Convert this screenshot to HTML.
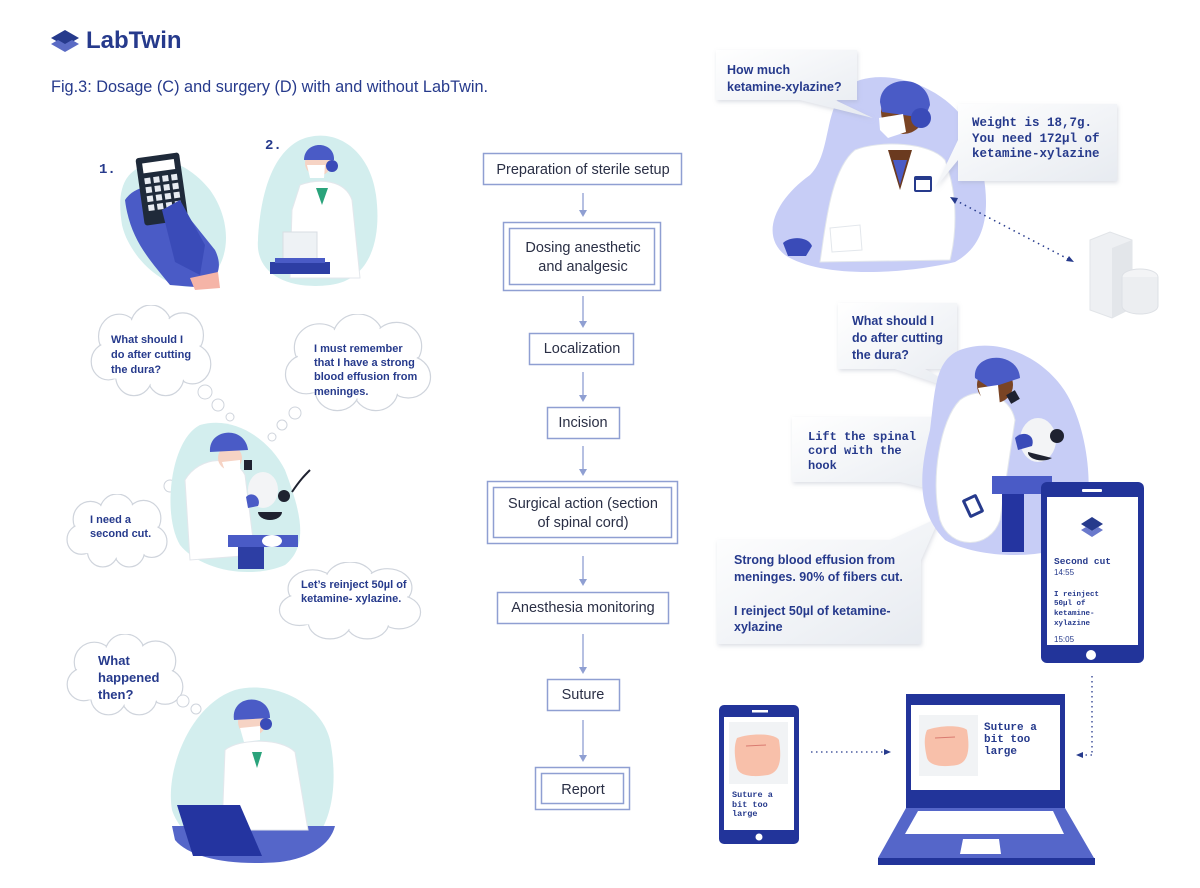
<!DOCTYPE html>
<html><head><meta charset="utf-8"><style>
html,body{margin:0;padding:0;background:#fff;}
svg{display:block;}
.t{font-family:"Liberation Sans",sans-serif;fill:#263a8c;}
.m{font-family:"Liberation Mono",monospace;fill:#263a8c;font-weight:bold;}
.fb{fill:#fff;stroke:#8f9fd2;stroke-width:1.5;}
.ft{font-family:"Liberation Sans",sans-serif;fill:#2a2f45;font-size:14.5px;text-anchor:middle;}
.ar{stroke:#8f9fd2;stroke-width:1.3;fill:none;}
.ah{fill:#8f9fd2;}
</style></head><body>
<svg width="1200" height="888" viewBox="0 0 1200 888" xmlns="http://www.w3.org/2000/svg">
<defs>
<symbol id="cloud" viewBox="0 0 100 70" preserveAspectRatio="none">
<g fill="#fff" stroke="#cfd4dc" stroke-width="1.2">
<circle cx="24" cy="24" r="17" vector-effect="non-scaling-stroke"/><circle cx="50" cy="17" r="17" vector-effect="non-scaling-stroke"/><circle cx="76" cy="23" r="17" vector-effect="non-scaling-stroke"/><circle cx="84" cy="45" r="15" vector-effect="non-scaling-stroke"/><circle cx="62" cy="54" r="15" vector-effect="non-scaling-stroke"/><circle cx="36" cy="54" r="15" vector-effect="non-scaling-stroke"/><circle cx="15" cy="43" r="14" vector-effect="non-scaling-stroke"/>
</g>
<g fill="#fff"><circle cx="24" cy="24" r="16"/><circle cx="50" cy="17" r="16"/><circle cx="76" cy="23" r="16"/><circle cx="84" cy="45" r="14"/><circle cx="62" cy="54" r="14"/><circle cx="36" cy="54" r="14"/><circle cx="15" cy="43" r="13"/><rect x="18" y="18" width="66" height="38"/></g>
</symbol>
<filter id="sh" x="-10%" y="-10%" width="130%" height="130%"><feDropShadow dx="1" dy="2" stdDeviation="2" flood-color="#9aa3b5" flood-opacity="0.35"/></filter>
<linearGradient id="bub" x1="0" y1="0" x2="1" y2="1"><stop offset="0" stop-color="#ffffff"/><stop offset="1" stop-color="#e6eaf0"/></linearGradient>
</defs>

<!-- Logo -->
<path d="M51 38 L65 30 L79 38 L65 46 Z" fill="#263a8c"/>
<path d="M51 44 L58 40 L65 44 L72 40 L79 44 L65 52 Z" fill="#5a6bc4"/>
<text x="86" y="48" class="t" font-size="24" font-weight="bold">LabTwin</text>
<text x="51" y="92" class="t" font-size="16.3">Fig.3: Dosage (C) and surgery (D) with and without LabTwin.</text>

<!-- 1. calculator -->
<text x="99" y="173" class="m" font-size="14">1.</text>
<path d="M135 170 C160 150 190 165 210 190 C235 225 230 270 200 285 C170 295 130 260 122 225 C118 200 120 180 135 170 Z" fill="#d3eeee"/>
<path d="M125 200 C135 185 160 180 175 200 L215 250 C225 270 215 285 195 287 L170 285 C150 260 130 240 125 200 Z" fill="#4a5bc6"/>
<rect x="140" y="155" width="44" height="68" rx="3" fill="#1f2a3a" transform="rotate(-8 162 190)"/>
<rect x="146" y="161" width="32" height="10" fill="#fff" transform="rotate(-8 162 190)"/>
<g fill="#e8ecf2" transform="rotate(-8 162 190)">
<rect x="146" y="176" width="6" height="6"/><rect x="155" y="176" width="6" height="6"/><rect x="164" y="176" width="6" height="6"/><rect x="173" y="176" width="6" height="6"/>
<rect x="146" y="185" width="6" height="6"/><rect x="155" y="185" width="6" height="6"/><rect x="164" y="185" width="6" height="6"/><rect x="173" y="185" width="6" height="6"/>
<rect x="146" y="194" width="6" height="6"/><rect x="155" y="194" width="6" height="6"/><rect x="164" y="194" width="6" height="6"/><rect x="173" y="194" width="6" height="6"/>
<rect x="146" y="203" width="6" height="6"/><rect x="155" y="203" width="6" height="6"/><rect x="164" y="203" width="6" height="6"/><rect x="173" y="203" width="6" height="6"/>
</g>
<path d="M162 210 L180 200 L205 245 L200 275 L175 262 Z" fill="#3a4bb8"/>
<path d="M190 278 L218 272 L220 288 L195 290 Z" fill="#f5b4a7"/>

<!-- 2. scale person -->
<text x="265" y="149" class="m" font-size="14">2.</text>
<path d="M300 140 C335 125 370 150 376 195 C382 240 370 280 330 285 C290 290 255 275 258 240 C260 200 270 155 300 140 Z" fill="#d3eeee"/>
<path d="M300 185 C320 178 345 180 352 200 L360 278 L290 278 L292 210 Z" fill="#fff" stroke="#e3e7ec"/>
<path d="M316 188 L322 205 L328 188 Z" fill="#2aa37b"/>
<circle cx="318" cy="163" r="13" fill="#f6d3c4"/>
<path d="M304 160 C304 140 335 140 334 160 Z" fill="#4a5bc6"/>
<circle cx="332" cy="166" r="6" fill="#3a4bb8"/>
<path d="M307 165 L325 165 L324 178 L310 178 Z" fill="#fff"/>
<rect x="283" y="232" width="34" height="30" fill="#eef2f5" stroke="#d8dde3"/>
<rect x="270" y="262" width="60" height="12" fill="#2d3ea4"/>
<rect x="275" y="258" width="50" height="5" fill="#4a5bc6"/>

<!-- Clouds left -->
<use href="#cloud" x="90" y="305" width="122" height="92"/>
<text class="t" font-size="11" font-weight="bold"><tspan x="111" y="343">What should I</tspan><tspan x="111" y="358">do after cutting</tspan><tspan x="111" y="373">the dura?</tspan></text>
<use href="#cloud" x="284" y="314" width="148" height="98"/>
<text class="t" font-size="11" font-weight="bold"><tspan x="314" y="352">I must remember</tspan><tspan x="314" y="366">that I have a strong</tspan><tspan x="314" y="380">blood effusion from</tspan><tspan x="314" y="395">meninges.</tspan></text>
<use href="#cloud" x="66" y="494" width="102" height="74"/>
<text class="t" font-size="11" font-weight="bold"><tspan x="90" y="523">I need a</tspan><tspan x="90" y="537">second cut.</tspan></text>
<use href="#cloud" x="278" y="562" width="144" height="78"/>
<text class="t" font-size="11" font-weight="bold"><tspan x="301" y="588">Let’s reinject 50µl of</tspan><tspan x="301" y="602">ketamine- xylazine.</tspan></text>
<use href="#cloud" x="66" y="634" width="118" height="82"/>
<text class="t" font-size="13" font-weight="bold"><tspan x="98" y="665">What</tspan><tspan x="98" y="682">happened</tspan><tspan x="98" y="699">then?</tspan></text>
<g fill="#fff" stroke="#cfd4dc">
<circle cx="205" cy="392" r="7"/><circle cx="218" cy="405" r="6"/><circle cx="230" cy="417" r="4"/>
<circle cx="295" cy="413" r="6"/><circle cx="282" cy="425" r="5"/><circle cx="272" cy="437" r="4"/>
<circle cx="170" cy="486" r="6"/><circle cx="182" cy="476" r="5"/><circle cx="192" cy="468" r="4"/>
<circle cx="183" cy="701" r="6"/><circle cx="196" cy="709" r="5"/><circle cx="206" cy="717" r="4"/>
</g>

<!-- microscope person left -->
<path d="M200 425 C235 415 270 440 285 470 C300 510 310 545 285 565 C250 580 200 570 180 545 C162 515 170 440 200 425 Z" fill="#d3eeee"/>
<path d="M185 480 C200 455 235 455 245 475 L255 555 L190 560 Z" fill="#fff" stroke="#e3e7ec"/>
<circle cx="230" cy="458" r="12" fill="#f6d3c4"/>
<path d="M210 452 C208 428 245 425 248 450 Z" fill="#4a5bc6"/>
<path d="M222 462 L240 460 L240 472 L226 474 Z" fill="#fff"/>
<rect x="244" y="460" width="8" height="10" fill="#1f2230"/>
<ellipse cx="263" cy="490" rx="15" ry="18" fill="#f3f4f6"/>
<circle cx="284" cy="496" r="6" fill="#1f2230"/>
<path d="M258 512 A12 8 0 0 0 282 512 Z" fill="#1f2230"/>
<path d="M246 497 C252 490 262 498 258 506 L248 508 Z" fill="#4a5bc6"/>
<path d="M292 492 C300 480 305 475 310 470" stroke="#1f2230" stroke-width="2" fill="none"/>
<rect x="228" y="535" width="70" height="12" fill="#4a5bc6"/>
<rect x="238" y="547" width="26" height="22" fill="#2d3ea4"/>
<ellipse cx="272" cy="541" rx="10" ry="6" fill="#fff"/>

<!-- laptop person left -->
<path d="M235 690 C270 680 320 700 330 740 C340 790 330 845 290 855 C240 862 185 850 172 810 C165 770 190 705 235 690 Z" fill="#d3eeee"/>
<path d="M172 826 L335 826 C330 845 310 858 280 862 C230 866 190 858 175 840 Z" fill="#5566c9"/>
<path d="M225 750 C240 738 282 738 295 752 L308 830 L222 830 Z" fill="#fff" stroke="#e3e7ec"/>
<path d="M252 752 L257 768 L262 752 Z" fill="#2aa37b"/>
<circle cx="252" cy="722" r="14" fill="#f6d3c4"/>
<path d="M234 720 C230 694 270 692 270 718 Z" fill="#4a5bc6"/>
<circle cx="266" cy="724" r="6" fill="#3a4bb8"/>
<path d="M240 728 L260 726 L260 740 L244 742 Z" fill="#fff"/>
<path d="M177 805 L240 805 L262 856 L193 856 Z" fill="#2434a0"/>

<!-- Flowchart -->
<rect class="fb" x="483.5" y="153.5" width="198" height="31"/>
<text class="ft" x="583" y="174">Preparation of sterile setup</text>
<rect class="fb" x="503.5" y="222.5" width="157" height="68"/>
<rect class="fb" x="509.5" y="228.5" width="145" height="56"/>
<text class="ft" x="583" y="252">Dosing anesthetic</text>
<text class="ft" x="583" y="271">and analgesic</text>
<rect class="fb" x="529.5" y="333.5" width="104" height="31"/>
<text class="ft" x="582" y="353">Localization</text>
<rect class="fb" x="547.5" y="407.5" width="72" height="31"/>
<text class="ft" x="583" y="427">Incision</text>
<rect class="fb" x="487.5" y="481.5" width="190" height="62"/>
<rect class="fb" x="493.5" y="487.5" width="178" height="50"/>
<text class="ft" x="583" y="508">Surgical action (section</text>
<text class="ft" x="583" y="527">of spinal cord)</text>
<rect class="fb" x="497.5" y="592.5" width="171" height="31"/>
<text class="ft" x="583" y="612">Anesthesia monitoring</text>
<rect class="fb" x="547.5" y="679.5" width="72" height="31"/>
<text class="ft" x="583" y="699">Suture</text>
<rect class="fb" x="535.5" y="767.5" width="94" height="42"/>
<rect class="fb" x="541.5" y="773.5" width="82" height="30"/>
<text class="ft" x="583" y="794">Report</text>
<g class="ar"><line x1="583" y1="193" x2="583" y2="212"/><line x1="583" y1="296" x2="583" y2="322"/><line x1="583" y1="372" x2="583" y2="396"/><line x1="583" y1="446" x2="583" y2="470"/><line x1="583" y1="556" x2="583" y2="580"/><line x1="583" y1="634" x2="583" y2="668"/><line x1="583" y1="720" x2="583" y2="756"/></g>
<g class="ah"><path d="M579 210 L583 217 L587 210Z"/><path d="M579 321 L583 328 L587 321Z"/><path d="M579 395 L583 402 L587 395Z"/><path d="M579 469 L583 476 L587 469Z"/><path d="M579 579 L583 586 L587 579Z"/><path d="M579 667 L583 674 L587 667Z"/><path d="M579 755 L583 762 L587 755Z"/></g>

<!-- Right top blob + person -->
<path d="M860 80 C900 68 960 95 975 140 C990 190 995 240 955 262 C900 275 820 278 785 255 C760 235 775 200 810 175 C835 150 820 95 860 80 Z" fill="#c7cdf6"/>
<path d="M855 150 C880 140 930 142 945 160 C960 200 955 240 950 260 L820 262 C825 230 830 170 855 150 Z" fill="#fff" stroke="#e3e7ec"/>
<path d="M888 150 L900 190 L912 150 Z" fill="#6b3a1f"/>
<path d="M893 160 L900 185 L907 160 Z" fill="#4a5bc6"/>
<circle cx="903" cy="112" r="22" fill="#7a4424"/>
<path d="M880 102 C880 75 928 72 930 105 L925 118 L882 112 Z" fill="#4a5bc6"/>
<circle cx="921" cy="118" r="10" fill="#3a4bb8"/>
<path d="M879 118 L903 114 L906 132 L888 138 L880 130 Z" fill="#fff"/>
<rect x="914" y="176" width="18" height="16" rx="2" fill="#263a8c"/><rect x="916" y="180" width="14" height="10" fill="#fff"/>
<path d="M830 228 L860 225 L862 250 L832 252 Z" fill="#fff" stroke="#e3e7ec"/>
<path d="M783 243 C790 236 808 236 812 246 L806 256 L788 256 Z" fill="#3a4bb8"/>
<!-- server -->
<path d="M1090 240 L1110 232 L1132 240 L1132 308 L1112 318 L1090 310 Z" fill="#eef0f3" stroke="#e1e4e8"/>
<path d="M1112 248 L1132 240 L1132 308 L1112 318 Z" fill="#e3e6ea"/>
<ellipse cx="1140" cy="277" rx="18" ry="8" fill="#f3f4f6" stroke="#dde0e5"/>
<path d="M1122 277 L1122 306 A18 8 0 0 0 1158 306 L1158 277" fill="#eceef1" stroke="#dde0e5"/>
<line x1="955" y1="200" x2="1070" y2="260" stroke="#263a8c" stroke-width="1.5" stroke-dasharray="1.5 4"/>
<path d="M950 197 L958 198 L955 204 Z" fill="#263a8c"/><path d="M1074 262 L1066 261 L1069 256 Z" fill="#263a8c"/>

<!-- Speech boxes -->
<g filter="url(#sh)">
<path d="M716 50 L857 50 L857 100 L835 100 L873 118 L800 100 L716 100 Z" fill="url(#bub)"/>
<path d="M958 104 L1117 104 L1117 181 L958 181 L958 160 L935 188 L958 140 Z" fill="url(#bub)"/>
<path d="M838 303 L957 303 L957 369 L925 369 L970 395 L895 369 L838 369 Z" fill="url(#bub)"/>
<path d="M792 417 L948 417 L948 482 L930 482 L968 498 L900 482 L792 482 Z" fill="url(#bub)"/>
<path d="M717 540 L890 540 L940 517 L921 560 L921 644 L717 644 Z" fill="url(#bub)"/>
</g>
<text class="t" font-size="12.5" font-weight="bold"><tspan x="727" y="74">How much</tspan><tspan x="727" y="91">ketamine-xylazine?</tspan></text>
<text class="m" font-size="12.5"><tspan x="972" y="126">Weight is 18,7g.</tspan><tspan x="972" y="142">You need 172µl of</tspan><tspan x="972" y="157">ketamine-xylazine</tspan></text>
<text class="t" font-size="12.5" font-weight="bold"><tspan x="852" y="325">What should I</tspan><tspan x="852" y="342">do after cutting</tspan><tspan x="852" y="359">the dura?</tspan></text>
<text class="m" font-size="12" font-weight="normal"><tspan x="808" y="440">Lift the spinal</tspan><tspan x="808" y="454">cord with the</tspan><tspan x="808" y="469">hook</tspan></text>
<text class="t" font-size="12.5" font-weight="bold"><tspan x="734" y="564">Strong blood effusion from</tspan><tspan x="734" y="581">meninges. 90% of fibers cut.</tspan><tspan x="734" y="615">I reinject 50µl of ketamine-</tspan><tspan x="734" y="631">xylazine</tspan></text>

<!-- right middle blob + person -->
<path d="M960 350 C1000 335 1050 360 1070 400 C1090 440 1095 500 1080 540 C1050 560 980 560 945 540 C915 510 920 470 930 430 C935 390 935 360 960 350 Z" fill="#c7cdf6"/>
<path d="M960 400 C980 385 1010 395 1015 420 L1000 520 C990 550 950 550 940 520 C930 480 940 420 960 400 Z" fill="#fff" stroke="#e3e7ec"/>
<circle cx="995" cy="385" r="18" fill="#7a4424"/>
<path d="M975 378 C972 352 1018 350 1020 378 L990 388 Z" fill="#4a5bc6"/>
<path d="M978 388 L998 385 L1000 405 L985 408 Z" fill="#fff"/>
<rect x="1008" y="392" width="10" height="10" fill="#1f2230" transform="rotate(-30 1013 397)"/>
<ellipse cx="1038" cy="440" rx="18" ry="22" fill="#f3f4f6"/>
<circle cx="1057" cy="436" r="7" fill="#1f2230"/>
<path d="M1028 452 A14 8 0 0 0 1052 458 Z" fill="#1f2230"/>
<path d="M1015 438 C1022 430 1036 434 1032 446 L1018 450 Z" fill="#3a4bb8"/>
<rect x="992" y="476" width="60" height="18" fill="#4a5bc6"/>
<rect x="1002" y="494" width="22" height="58" fill="#2434a0"/>
<rect x="965" y="496" width="16" height="20" rx="2" fill="#263a8c" transform="rotate(-25 973 506)"/>
<rect x="968" y="499" width="10" height="14" fill="#fff" transform="rotate(-25 973 506)"/>

<!-- big phone -->
<rect x="1041" y="482" width="103" height="181" rx="6" fill="#22349a"/>
<rect x="1047" y="497" width="91" height="148" fill="#fff"/>
<rect x="1082" y="489" width="20" height="3" rx="1" fill="#fff"/>
<circle cx="1091" cy="655" r="5" fill="#fff"/>
<path d="M1081 524 L1092 517 L1103 524 L1092 531 Z" fill="#263a8c"/>
<path d="M1081 530 L1086 527 L1092 531 L1098 527 L1103 530 L1092 537 Z" fill="#6a79cc"/>
<text class="m" font-size="9.5"><tspan x="1054" y="564">Second cut</tspan></text>
<text class="t" font-size="8"><tspan x="1054" y="575">14:55</tspan></text>
<text class="m" font-size="7.5"><tspan x="1054" y="596">I reinject</tspan><tspan x="1054" y="605">50µl of</tspan><tspan x="1054" y="615">ketamine-</tspan><tspan x="1054" y="625">xylazine</tspan></text>
<text class="t" font-size="8"><tspan x="1054" y="642">15:05</tspan></text>

<!-- dotted links bottom -->
<line x1="1092" y1="676" x2="1092" y2="755" stroke="#263a8c" stroke-width="1.3" stroke-dasharray="1.5 3.5"/>
<line x1="1092" y1="755" x2="1082" y2="755" stroke="#263a8c" stroke-width="1.3" stroke-dasharray="1.5 3.5"/>
<path d="M1076 755 L1083 752 L1083 758 Z" fill="#263a8c"/>
<line x1="811" y1="752" x2="884" y2="752" stroke="#263a8c" stroke-width="1.3" stroke-dasharray="1.5 3.5"/>
<path d="M891 752 L884 749 L884 755 Z" fill="#263a8c"/>

<!-- small phone -->
<rect x="719" y="705" width="80" height="139" rx="5" fill="#22349a"/>
<rect x="724" y="717" width="70" height="113" fill="#fff"/>
<rect x="752" y="710" width="16" height="2.5" fill="#fff"/>
<circle cx="759" cy="837" r="3.5" fill="#fff"/>
<rect x="729" y="722" width="59" height="62" fill="#f1f3f5"/>
<path d="M737 738 C750 733 775 733 779 740 C782 760 780 772 768 775 C755 777 740 777 737 768 C734 755 734 745 737 738 Z" fill="#f8c0aa"/>
<path d="M746 746 L766 745" stroke="#d97a70" stroke-width="1"/>
<text class="m" font-size="8.5"><tspan x="732" y="797">Suture a</tspan><tspan x="732" y="807">bit too</tspan><tspan x="732" y="816">large</tspan></text>

<!-- laptop -->
<rect x="906" y="694" width="159" height="114" fill="#22349a"/>
<rect x="911" y="705" width="149" height="85" fill="#fff"/>
<rect x="919" y="715" width="59" height="61" fill="#f1f3f5"/>
<path d="M927 730 C940 725 962 725 967 730 C970 748 969 762 957 765 C945 767 930 767 927 758 C924 745 924 737 927 730 Z" fill="#f8c0aa"/>
<path d="M935 738 L955 737" stroke="#d97a70" stroke-width="1"/>
<text class="m" font-size="11"><tspan x="984" y="730">Suture a</tspan><tspan x="984" y="742">bit too</tspan><tspan x="984" y="754">large</tspan></text>
<path d="M906 808 L1065 808 L1094 858 L878 858 Z" fill="#5566c9"/>
<rect x="878" y="858" width="217" height="7" fill="#22349a"/>
<path d="M918 811 L1053 811 L1064 834 L905 834 Z" fill="#fff"/>
<path d="M963 839 L999 839 L1001 854 L960 854 Z" fill="#fff"/>
</svg>
</body></html>
